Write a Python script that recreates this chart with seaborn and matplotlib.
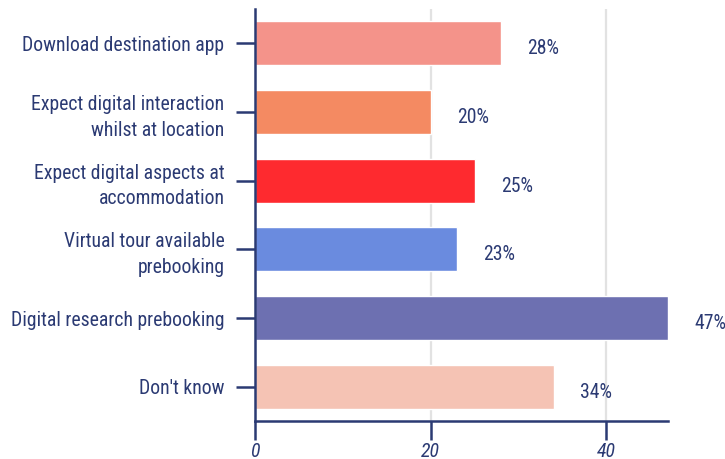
import matplotlib
matplotlib.use("Agg")
import matplotlib.pyplot as plt
import seaborn as sns
import pandas as pd

# chart data
categories = [
    "Download destination app",
    "Expect digital interaction\nwhilst at location",
    "Expect digital aspects at\naccommodation",
    "Virtual tour available\nprebooking",
    "Digital research prebooking",
    "Don't know",
]
values = [28, 20, 25, 23, 47, 34]
bar_colors = ["#f4938a", "#f48a62", "#fe2a2f", "#6a8bdf", "#6d70b1", "#f5c3b4"]
x_ticks = [0, 20, 40]

navy = "#2b3a73"

sns.set_style("white")
plt.rcParams["font.family"] = ["Roboto Condensed", "Roboto", "DejaVu Sans"]

df = pd.DataFrame({"category": categories, "value": values})

fig = plt.figure(figsize=(7.25, 4.59), dpi=100)
ax = fig.add_axes([255 / 725, 1 - 421 / 459, (668 - 255) / 725, (421 - 9) / 459])

sns.barplot(data=df, y="category", x="value", hue="category", palette=bar_colors,
            order=categories, hue_order=categories, orient="h", width=0.64,
            legend=False, ax=ax, saturation=1)

ax.set_xlim(0, 47)
ax.set_ylim(5.5, -0.5)
ax.set_xticks(x_ticks)
ax.set_xlabel("")
ax.set_ylabel("")

# vertical grid, skipping the zero line
for t in x_ticks[1:]:
    ax.axvline(t, color="#e2e2e2", lw=1.6, zorder=0)

for side in ["top", "right"]:
    ax.spines[side].set_visible(False)
for side in ["left", "bottom"]:
    ax.spines[side].set_color(navy)
    ax.spines[side].set_linewidth(1.8)

fs = 14.2
ax.tick_params(axis="y", length=14, width=1.8, color=navy, pad=8,
               labelsize=fs, labelcolor=navy, left=True)
ax.tick_params(axis="x", length=14, width=1.8, color=navy, pad=1,
               labelsize=fs, labelcolor=navy, bottom=True, direction="out")
for lbl in ax.get_xticklabels():
    lbl.set_fontstyle("italic")
for lbl in ax.get_yticklabels():
    lbl.set_linespacing(1.45)

for i, v in enumerate(values):
    ax.annotate(f"{v}%", xy=(v, i), xytext=(19, -4), textcoords="offset points",
                ha="left", va="center", fontsize=fs, color=navy, annotation_clip=False)

fig.savefig("out.png", dpi=100)
